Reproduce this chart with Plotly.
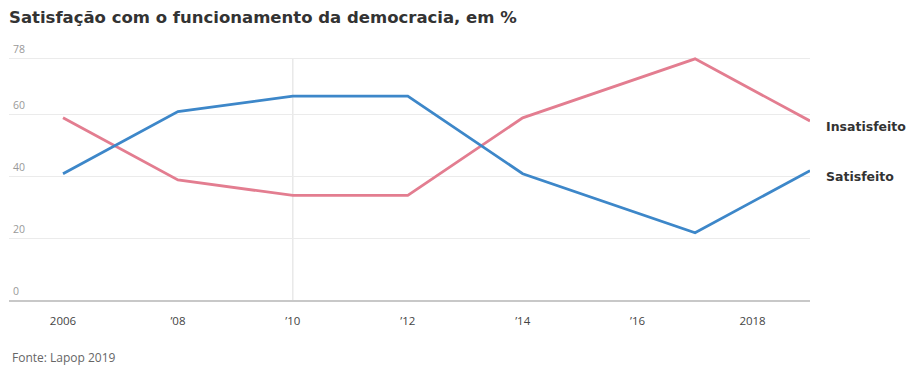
import plotly.graph_objects as go

# Survey years and shares (%)
years = [2006, 2008, 2010, 2012, 2014, 2017, 2019]
satisfeito = [41, 61, 66, 66, 41, 22, 42]
insatisfeito = [59, 39, 34, 34, 59, 78, 58]

x_tick_vals = [2006, 2008, 2010, 2012, 2014, 2016, 2018]
x_tick_text = ["2006", "’08", "’10", "’12", "’14", "’16", "2018"]
y_tick_vals = [0, 20, 40, 60, 78]
highlight_year = 2010

BLUE = "#3d87c9"
PINK = "#e37d90"

fig = go.Figure()
fig.add_trace(go.Scatter(x=years, y=insatisfeito, mode="lines", name="Insatisfeito",
                         line=dict(color=PINK, width=2.8), hoverinfo="x+y"))
fig.add_trace(go.Scatter(x=years, y=satisfeito, mode="lines", name="Satisfeito",
                         line=dict(color=BLUE, width=2.8), hoverinfo="x+y"))

# Series labels at the right end of each line
for name, vals in (("Insatisfeito", insatisfeito), ("Satisfeito", satisfeito)):
    fig.add_annotation(x=years[-1], y=vals[-1], text=name, showarrow=False,
                       xanchor="left", yanchor="middle", xshift=14, yshift=-6,
                       font=dict(family="DejaVu Sans", size=12.5, color="#333333", weight="bold"))

# Y-axis values written just above their gridlines, inside the plot
for v in y_tick_vals:
    fig.add_annotation(x=0, xref="paper", y=v, yref="y", text=str(v), showarrow=False,
                       xanchor="left", yanchor="bottom", xshift=2, yshift=1,
                       font=dict(family="Open Sans", size=10.5, color="#999999"))

# Reference line at 2010
fig.add_shape(type="line", xref="x", yref="y", x0=highlight_year, x1=highlight_year,
              y0=0, y1=max(y_tick_vals), line=dict(color="#dddddd", width=1), layer="below")

fig.add_annotation(text="Fonte: Lapop 2019", xref="paper", yref="paper", x=0, y=-0.232,
                   xanchor="left", yanchor="middle", xshift=1, showarrow=False,
                   font=dict(family="Open Sans", size=12, color="#666666"))

fig.update_layout(
    width=912, height=369,
    margin=dict(l=9, r=102, t=57, b=68),
    paper_bgcolor="white", plot_bgcolor="white",
    showlegend=False,
    title=dict(text="<b>Satisfação com o funcionamento da democracia, em %</b>",
               x=0, xref="paper", xanchor="left", y=0.953, yanchor="middle",
               font=dict(family="DejaVu Sans", size=16.5, color="#333333")),
    xaxis=dict(range=[2005.06, 2019], tickmode="array", tickvals=x_tick_vals,
               ticktext=x_tick_text, showgrid=False, zeroline=False,
               showline=False, ticks="", ticklabelstandoff=11,
               tickfont=dict(family="Open Sans", size=11.5, color="#444444")),
    yaxis=dict(range=[0, 78.6], tickmode="array", tickvals=y_tick_vals,
               showgrid=True, gridcolor="#ebebeb", gridwidth=1,
               zeroline=True, zerolinecolor="#c8c8c8", zerolinewidth=1.5,
               showline=False, ticks="", showticklabels=False),
)

fig.write_html("out.html")
